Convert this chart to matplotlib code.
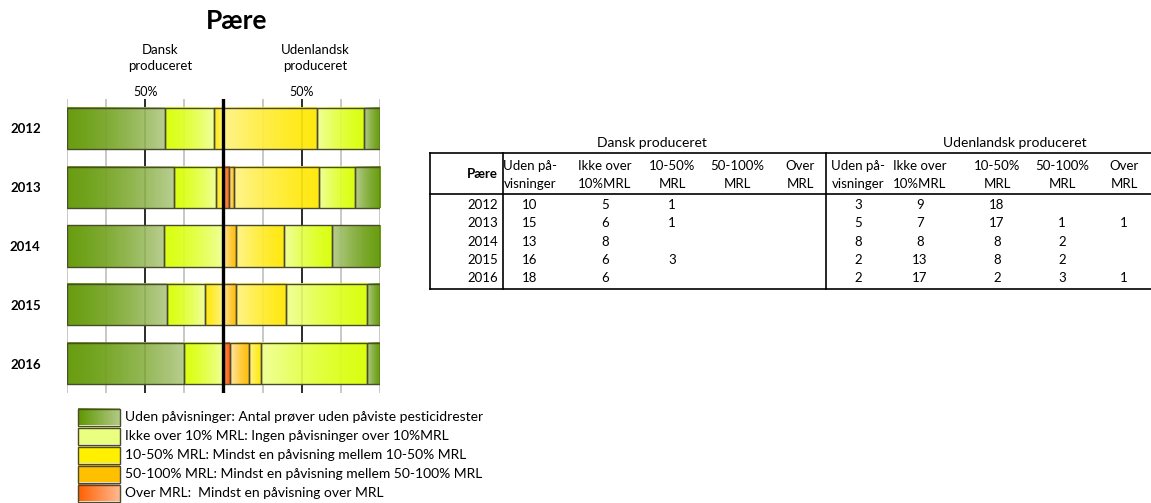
import numpy as np
import matplotlib.pyplot as plt
from matplotlib.colors import to_rgb
from matplotlib.lines import Line2D

plt.rcParams['font.family'] = ['Lato', 'DejaVu Sans']

# data (antal prøver)
years = [2012, 2013, 2014, 2015, 2016]
dk_uden = [10, 15, 13, 16, 18]
dk_ikke = [5, 6, 8, 6, 6]
dk_10_50 = [1, 1, 0, 3, 0]
dk_50_100 = [0, 0, 0, 0, 0]
dk_over = [0, 0, 0, 0, 0]
ud_uden = [3, 5, 8, 2, 2]
ud_ikke = [9, 7, 8, 13, 17]
ud_10_50 = [18, 17, 8, 8, 2]
ud_50_100 = [0, 1, 2, 2, 3]
ud_over = [0, 1, 0, 0, 1]

col_heads = [("Uden på-", "visninger"), ("Ikke over", "10%MRL"), ("10-50%", "MRL"),
             ("50-100%", "MRL"), ("Over", "MRL")]
legend_labels = [
    "Uden påvisninger: Antal prøver uden påviste pesticidrester",
    "Ikke over 10% MRL: Ingen påvisninger over 10%MRL",
    "10-50% MRL: Mindst en påvisning mellem 10-50% MRL",
    "50-100% MRL: Mindst en påvisning mellem 50-100% MRL",
    "Over MRL:  Mindst en påvisning over MRL",
]

# (outer, inner) colours for each category
grads = [("#5f9700", "#b2ca86"),
         ("#d8ff00", "#f0ff92"),
         ("#ffe800", "#fff384"),
         ("#ffbc00", "#ffe6a4"),
         ("#ff5500", "#ff9a60")]
legend_cols = [("#5f9700", "#b2ca86"), ("#eaff80", "#eaff80"), ("#fff000", "#fff000"),
               ("#ffc000", "#ffc000"), ("#ff6000", "#ffb890")]
edge = "#4b4a2c"


def grad_img(c0, c1, n=64, p=1.4):
    a, b = np.array(to_rgb(c0)), np.array(to_rgb(c1))
    t = np.linspace(0, 1, n)[:, None] ** p
    return (a * (1 - t) + b * t)[None, :, :]


def draw_seg(ax, x0, x1, y, h, c_outer, c_inner, flip):
    if x1 - x0 <= 0:
        return
    img = grad_img(c_outer, c_inner)
    if flip:
        img = img[:, ::-1, :]
    ax.imshow(img, extent=(x0, x1, y + h / 2, y - h / 2),
              aspect='auto', interpolation='bilinear', alpha=0.93, zorder=2)
    ax.barh(y, x1 - x0, left=x0, height=h, facecolor='none', edgecolor=edge,
            linewidth=1.0, zorder=3)


fig = plt.figure(figsize=(11.51, 5.03), dpi=100)
W, H = 1151, 503
ax = fig.add_axes([67 / W, 1 - 393 / H, 313 / W, 294 / H])

dk = np.array([dk_uden, dk_ikke, dk_10_50, dk_50_100, dk_over], dtype=float)
ud = np.array([ud_uden, ud_ikke, ud_10_50, ud_50_100, ud_over], dtype=float)
h = 0.7
for i in range(len(years)):
    # Danish: from left edge to the centre
    share = dk[:, i] / dk[:, i].sum() * 50
    x = 0
    for k in range(5):
        draw_seg(ax, x, x + share[k], i, h, grads[k][0], grads[k][1], False)
        x += share[k]
    # foreign: from right edge to the centre
    share = ud[:, i] / ud[:, i].sum() * 50
    x = 100
    for k in range(5):
        draw_seg(ax, x - share[k], x, i, h, grads[k][0], grads[k][1], True)
        x -= share[k]

for gx in np.arange(0, 101, 12.5):
    if gx == 50:
        continue
    c = '#1a1a1a' if gx in (25, 75) else '#c4c4c4'
    ax.axvline(gx, color=c, lw=1.3, zorder=1)
ax.axvline(50, color='black', lw=2.4, zorder=5)

ax.set_xlim(0, 100)
ax.set_ylim(len(years) - 0.5, -0.5)
ax.xaxis.tick_top()
ax.set_xticks([25, 75], ["50%", "50%"], fontsize=9)
ax.tick_params(axis='x', length=0, pad=1)
ax.set_yticks(range(len(years)), [str(y) for y in years], fontsize=9.5, fontweight='bold')
ax.tick_params(axis='y', length=0, pad=19)
for s in ax.spines.values():
    s.set_visible(False)

# overlay in pixel coordinates for titles, table and legend
ov = fig.add_axes([0, 0, 1, 1])
ov.set_xlim(0, W)
ov.set_ylim(H, 0)
ov.axis('off')

ov.text(237, 21, "Pære", fontsize=19, fontweight='bold', ha='center', va='center')
ov.text(160, 58, "Dansk\nproduceret", fontsize=9.5, ha='center', va='center', linespacing=1.35)
ov.text(315, 58, "Udenlandsk\nproduceret", fontsize=9.5, ha='center', va='center', linespacing=1.35)

# table
tfs = 9.5
t_top, t_head, t_bot = 153, 194, 289
for yy in (t_top, t_head, t_bot):
    ov.add_line(Line2D([430, 1151], [yy, yy], color='black', lw=1.2))
for xx in (430, 503, 826):
    ov.add_line(Line2D([xx, xx], [t_top, t_bot], color='black', lw=1.2))
ov.text(652, 143, "Dansk produceret", fontsize=10, ha='center', va='center')
ov.text(1015, 143, "Udenlandsk produceret", fontsize=10, ha='center', va='center')
ov.text(498, 174, "Pære", fontsize=tfs, fontweight='bold', ha='right', va='center')
dk_x = [530, 605, 672, 737, 800]
ud_x = [858, 920, 997, 1062, 1124]
for k, (a, b) in enumerate(col_heads):
    for cx in (dk_x[k], ud_x[k]):
        ov.text(cx, 166, a, fontsize=tfs, ha='center', va='center')
        ov.text(cx, 184, b, fontsize=tfs, ha='center', va='center')
row_y = [205, 223, 242, 260, 278]
for i, yr in enumerate(years):
    ov.text(498, row_y[i], str(yr), fontsize=tfs, ha='right', va='center')
    for k in range(5):
        if dk[k, i] > 0:
            ov.text(dk_x[k], row_y[i], str(int(dk[k, i])), fontsize=tfs, ha='center', va='center')
        if ud[k, i] > 0:
            ov.text(ud_x[k], row_y[i], str(int(ud[k, i])), fontsize=tfs, ha='center', va='center')

# legend
for k, lab in enumerate(legend_labels):
    yc = 417 + k * 19
    ov.imshow(grad_img(*legend_cols[k], p=1.0), extent=(78, 120, yc + 8.5, yc - 8.5),
              aspect='auto', interpolation='bilinear')
    ov.add_patch(plt.Rectangle((78, yc - 8.5), 42, 17, fill=False, edgecolor=edge, lw=1.0))
    ov.text(125, yc, lab, fontsize=10, ha='left', va='center')
ov.set_xlim(0, W)
ov.set_ylim(H, 0)

fig.savefig("out.png", dpi=100)
